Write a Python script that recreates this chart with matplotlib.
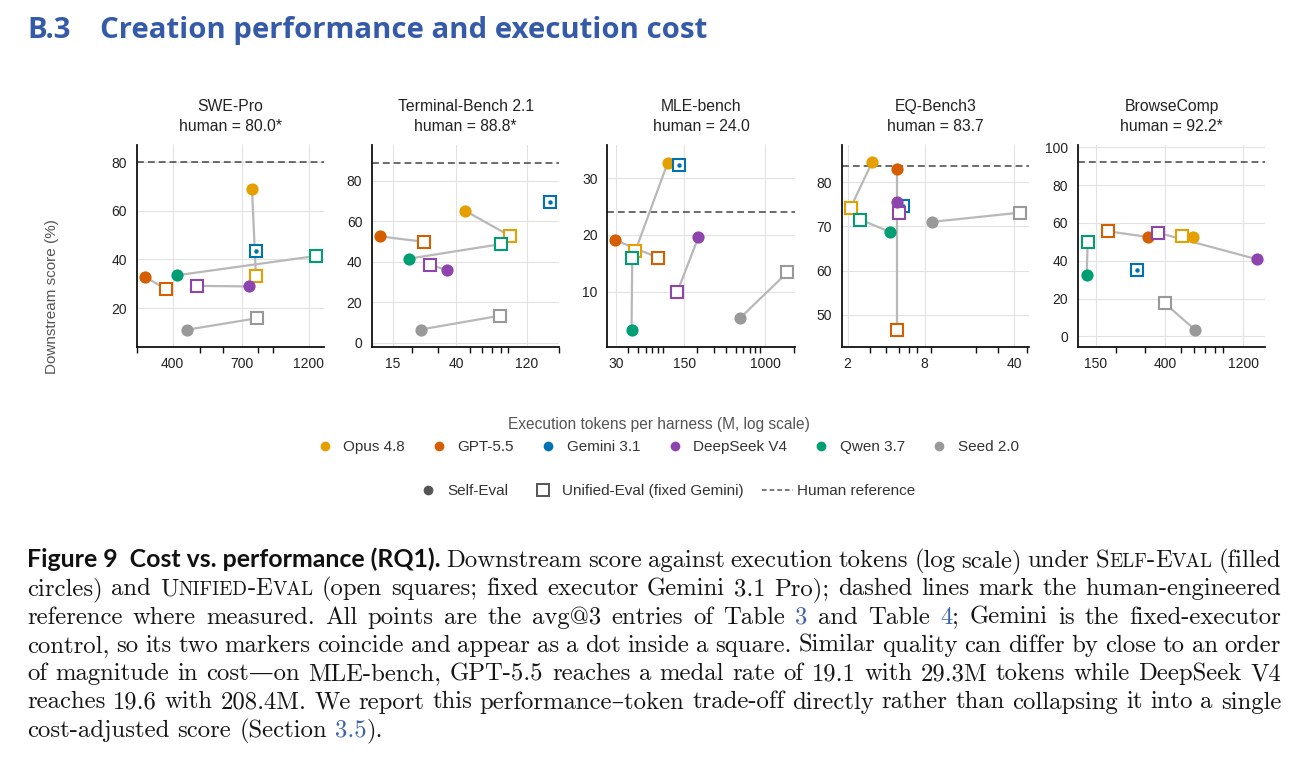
import numpy as np
import matplotlib
matplotlib.use("Agg")
import matplotlib.pyplot as plt
from matplotlib.lines import Line2D
from matplotlib.ticker import FixedLocator, FixedFormatter, LogLocator, NullFormatter

plt.rcParams["font.family"] = ["Liberation Sans", "DejaVu Sans"]

W, H = 1306, 778

# ---- data ----
MODELS = ["Opus 4.8", "GPT-5.5", "Gemini 3.1", "DeepSeek V4", "Qwen 3.7", "Seed 2.0"]
COLORS = ["#E69F00", "#D55E00", "#0072B2", "#8E44AD", "#009E73", "#999999"]

BENCHES = ["SWE-Pro", "Terminal-Bench 2.1", "MLE-bench", "EQ-Bench3", "BrowseComp"]
HUMAN = [80.0, 88.8, 24.0, 83.7, 92.2]
HUMAN_MARK = ["*", "*", "", "", "*"]

# execution tokens (M) and score, order follows MODELS
swe_self_tok = [759, 321, 784, 741, 415, 449]
swe_self_score = [69.1, 32.7, 43.5, 28.9, 33.5, 11.1]
swe_uni_tok = [784, 379, 784, 488, 1274, 789]
swe_uni_score = [33.0, 27.8, 43.5, 29.1, 41.4, 15.8]

tb_self_tok = [45.8, 12.2, 173.5, 34.9, 19.2, 23.0]
tb_self_score = [65.2, 52.5, 69.2, 35.9, 41.5, 6.6]
tb_uni_tok = [92.1, 24.3, 173.5, 26.5, 80.5, 78.9]
tb_uni_score = [52.8, 49.8, 69.2, 38.5, 48.7, 13.4]

mle_self_tok = [101.4, 29.3, 131.6, 208.4, 43.2, 556]
mle_self_score = [32.8, 19.1, 32.4, 19.6, 3.2, 5.3]
mle_uni_tok = [47.1, 80.7, 131.6, 126.6, 43.9, 1698]
mle_uni_score = [17.1, 16.0, 32.4, 9.9, 16.0, 13.4]

eq_self_tok = [3.11, 4.90, 5.42, 4.90, 4.32, 9.10]
eq_self_score = [84.5, 83.0, 74.7, 75.4, 68.7, 71.0]
eq_uni_tok = [2.11, 4.90, 5.42, 5.04, 2.52, 44.3]
eq_uni_score = [74.2, 46.5, 74.7, 73.0, 71.5, 73.1]

bc_self_tok = [594, 312, 267, 1452, 132, 608]
bc_self_score = [52.6, 52.6, 35.2, 40.8, 32.4, 3.5]
bc_uni_tok = [508, 177.7, 267, 362, 134, 398]
bc_uni_score = [53.3, 55.6, 35.2, 54.8, 49.8, 17.4]

PANELS = [
    (swe_self_tok, swe_self_score, swe_uni_tok, swe_uni_score),
    (tb_self_tok, tb_self_score, tb_uni_tok, tb_uni_score),
    (mle_self_tok, mle_self_score, mle_uni_tok, mle_uni_score),
    (eq_self_tok, eq_self_score, eq_uni_tok, eq_uni_score),
    (bc_self_tok, bc_self_score, bc_uni_tok, bc_uni_score),
]

XTICKS = [[400, 700, 1200], [15, 40, 120], [30, 150, 1000], [2, 8, 40], [150, 400, 1200]]
YTICKS = [[20, 40, 60, 80], [0, 20, 40, 60, 80], [10, 20, 30], [50, 60, 70, 80],
          [0, 20, 40, 60, 80, 100]]
XLIMS = [(299, 1361), (10.8, 200), (24.4, 2020), (1.80, 52.4), (116.4, 1633)]
YLIMS = [(4, 87), (-2, 97.5), (0.2, 35.9), (42.7, 88.4), (-5.6, 101.2)]

# ---- layout (pixels) ----
AX_LEFT = [136.7, 372, 607.3, 841.7, 1077.7]
AX_W = 187.5
AX_TOP, AX_BOT = 145, 347
LINK = "#b8b8b8"
HUMAN_C = "#444444"

fig = plt.figure(figsize=(W / 100, H / 100), dpi=100)


def fx(x):
    return x / W


def fy(y):
    return 1 - y / H


for i in range(5):
    ax = fig.add_axes([fx(AX_LEFT[i]), fy(AX_BOT), AX_W / W, (AX_BOT - AX_TOP) / H])
    s_tok, s_sc, u_tok, u_sc = PANELS[i]
    for k in range(len(MODELS)):
        c = COLORS[k]
        if (s_tok[k], s_sc[k]) != (u_tok[k], u_sc[k]):
            ax.plot([s_tok[k], u_tok[k]], [s_sc[k], u_sc[k]], color=LINK, lw=1.6,
                    zorder=2, solid_capstyle="round")
        ax.plot(u_tok[k], u_sc[k], ls="none", marker="s", ms=8.2, mfc="white", mec=c,
                mew=1.5, zorder=3 + 2 * k)
        if MODELS[k].startswith("Gemini"):
            ax.plot(s_tok[k], s_sc[k], ls="none", marker="o", ms=3.2, mfc=c, mec=c,
                    mew=0, zorder=4 + 2 * k)
        else:
            ax.plot(s_tok[k], s_sc[k], ls="none", marker="o", ms=8.8, mfc=c, mec=c,
                    mew=0, zorder=4 + 2 * k)
    ax.axhline(HUMAN[i], color=HUMAN_C, lw=1.1, ls=(0, (4.5, 2.6)), zorder=1.5)

    ax.set_xscale("log")
    ax.set_xlim(*XLIMS[i])
    ax.set_ylim(*YLIMS[i])
    ax.xaxis.set_major_locator(FixedLocator(XTICKS[i]))
    ax.xaxis.set_major_formatter(FixedFormatter([str(v) for v in XTICKS[i]]))
    ax.xaxis.set_minor_locator(LogLocator(base=10, subs=np.arange(2, 10), numticks=50))
    ax.xaxis.set_minor_formatter(NullFormatter())
    ax.set_yticks(YTICKS[i])
    ax.tick_params(axis="x", which="major", length=0, pad=7, labelsize=10, labelcolor="#222")
    ax.tick_params(axis="x", which="minor", length=4, width=1, color="#111")
    ax.tick_params(axis="y", length=0, pad=7, labelsize=10, labelcolor="#222")
    ax.grid(True, which="major", color="#e2e2e2", lw=0.8)
    ax.set_axisbelow(True)
    for sp in ["top", "right"]:
        ax.spines[sp].set_visible(False)
    for sp in ["left", "bottom"]:
        ax.spines[sp].set_linewidth(1.3)
        ax.spines[sp].set_color("#111")
    ax.set_title(f"{BENCHES[i]}\nhuman = {HUMAN[i]:.1f}{HUMAN_MARK[i]}", fontsize=11.3,
                 pad=10, linespacing=1.42, color="#222")

fig.text(fx(52), fy(297), "Downstream score (%)", rotation=90, ha="center", va="center",
         fontsize=11, color="#555")
fig.text(fx(659), fy(425), "Execution tokens per harness (M, log scale)", ha="center",
         va="center", fontsize=11.2, color="#555")

h1 = [Line2D([], [], ls="none", marker="o", ms=7, mfc=c, mec=c, mew=0) for c in COLORS]
fig.legend(h1, MODELS, loc="center", bbox_to_anchor=(fx(664), fy(447)), ncol=6,
           frameon=False, fontsize=11, handlelength=2, handletextpad=0.2,
           columnspacing=1.25, labelcolor="#333")
h2 = [Line2D([], [], ls="none", marker="o", ms=7, mfc="#555", mec="#555", mew=0),
      Line2D([], [], ls="none", marker="s", ms=8, mfc="white", mec="#555", mew=1.4),
      Line2D([], [], color="#555", lw=1.1, ls=(0, (3, 2)))]
fig.legend(h2, ["Self-Eval", "Unified-Eval (fixed Gemini)", "Human reference"],
           loc="center", bbox_to_anchor=(fx(664), fy(491)), ncol=3, frameon=False,
           fontsize=11, handlelength=2, handletextpad=0.25, columnspacing=1.25,
           labelcolor="#333")

# ---- heading and caption ----
r = fig.canvas.get_renderer()


def width(txt, st):
    t = fig.text(0, 0, txt, **st)
    w = t.get_window_extent(renderer=r).width
    t.remove()
    return w


HEAD = dict(family=["Open Sans", "DejaVu Sans"], weight="bold", color="#345aa8", size=20)
HEAD["size"] = 20 * 608 / width("Creation performance and execution cost", HEAD)
fig.text(fx(27), fy(38), "B.3", va="baseline", ha="left", **HEAD)
fig.text(fx(100), fy(38), "Creation performance and execution cost", va="baseline",
         ha="left", **HEAD)

CS = 17.8
SERIF = dict(family=["cmr10", "DejaVu Serif"], size=CS, color="#151515")
SMALL = dict(SERIF, size=CS * 0.78)
BLUE = dict(SERIF, color="#3c64ae")
BOLD = dict(family=["Lato", "DejaVu Sans"], weight="bold", size=17, color="#111")
BOLD["size"] = 17 * 414 / width("Figure 9  Cost vs. performance (RQ1).", BOLD)


def plain(s):
    return [[(w, SERIF)] for w in s.split()]


def smallcaps(word):
    runs = []
    for part in word.split("-"):
        if runs:
            runs.append(("-", SERIF))
        runs.append((part[0], SERIF))
        runs.append((part[1:].upper(), SMALL))
    return [runs]


LINES = [
    [[("Figure 9  Cost vs. performance (RQ1).", BOLD)]]
    + plain("Downstream score against execution tokens (log scale) under")
    + smallcaps("Self-Eval") + plain("(filled"),
    plain("circles) and") + smallcaps("Unified-Eval")
    + plain("(open squares; fixed executor Gemini 3.1 Pro); dashed lines mark the human-engineered"),
    plain("reference where measured.  All points are the avg@3 entries of Table")
    + [[("3", BLUE)]] + plain("and Table") + [[("4", BLUE), (";", SERIF)]]
    + plain("Gemini is the fixed-executor"),
    plain("control, so its two markers coincide and appear as a dot inside a square. "
          "Similar quality can differ by close to an order"),
    plain("of magnitude in cost\u2014on MLE-bench, GPT-5.5 reaches a medal rate of 19.1 "
          "with 29.3M tokens while DeepSeek V4"),
    plain("reaches 19.6 with 208.4M. We report this performance\u2013token trade-off "
          "directly rather than collapsing it into a single"),
    plain("cost-adjusted score (Section") + [[("3.5", BLUE), (").", SERIF)]],
]

X0, X1 = 27, 1281
Y0, DY = 567, 28.3
space_nat = CS * 100 / 72 * 0.333
for li, words in enumerate(LINES):
    ww = [[width(t, st) for t, st in wd] for wd in words]
    tot = sum(sum(w) for w in ww)
    last = li == len(LINES) - 1
    gap = space_nat if last else (X1 - X0 - tot) / (len(words) - 1)
    x = X0
    y = Y0 + li * DY
    for wd, wl in zip(words, ww):
        for (t, st), w in zip(wd, wl):
            fig.text(fx(x), fy(y), t, ha="left", va="baseline", **st)
            x += w
        x += gap

fig.savefig("out.png", dpi=100)
